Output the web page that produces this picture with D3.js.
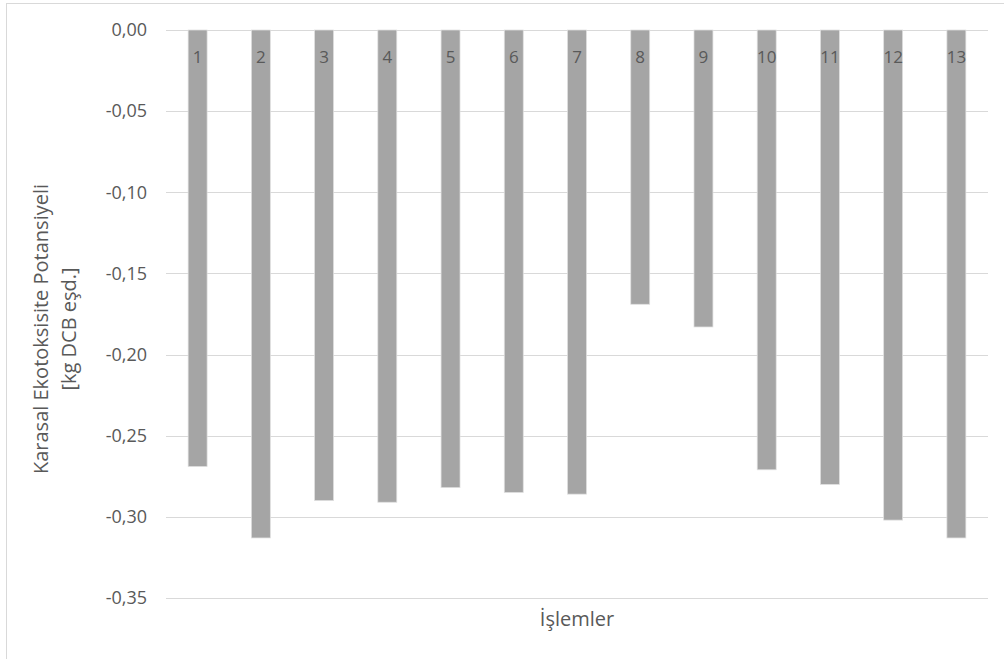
<!DOCTYPE html>
<html><head><meta charset="utf-8">
<script src="https://cdn.jsdelivr.net/npm/d3@7"></script>
<style>body{margin:0;background:#fff}svg{display:block}text{font-family:"Open Sans",sans-serif}</style>
</head><body><svg id="c" width="1004" height="659"></svg>
<script>
const categories = ["1","2","3","4","5","6","7","8","9","10","11","12","13"];
const values = [-0.269,-0.313,-0.290,-0.291,-0.282,-0.285,-0.286,-0.169,-0.183,-0.271,-0.280,-0.302,-0.313];
const yTicks = [0,-0.05,-0.10,-0.15,-0.20,-0.25,-0.30,-0.35];
const yTitle = ["Karasal Ekotoksisite Potansiyeli","[kg DCB eşd.]"];
const xTitle = "İşlemler";

const svg = d3.select("#c");
svg.append("rect").attr("x",6.5).attr("y",3.5).attr("width",1010).attr("height",670)
  .attr("fill","#fff").attr("stroke","#d9d9d9");
const L=166,R=988,T=30,B=598;
const x = d3.scaleBand().domain(categories).range([L,R]).paddingInner(0.7).paddingOuter(0.35);
const y = d3.scaleLinear().domain([0,-0.35]).range([T,B]);
const fmt = v => d3.format(".2f")(v).replace(".",",").replace("−","-");

const g = svg.append("g");
g.selectAll("line.grid").data(yTicks).enter().append("line")
  .attr("x1",L).attr("x2",R).attr("y1",d=>Math.round(y(d))+0.5).attr("y2",d=>Math.round(y(d))+0.5)
  .attr("stroke","#d9d9d9").attr("stroke-width",1);
g.selectAll("text.yt").data(yTicks).enter().append("text")
  .attr("x",147).attr("y",d=>y(d)).attr("dy","0.35em").attr("text-anchor","end")
  .attr("fill","#595959").attr("font-size",18).text(d=>fmt(d===0?0:d));
g.selectAll("rect.bar").data(values).enter().append("rect")
  .attr("x",(d,i)=>x(categories[i])).attr("width",x.bandwidth())
  .attr("y",y(0)).attr("height",d=>y(d)-y(0))
  .attr("fill","#a5a5a5").attr("stroke","#e0e0e0").attr("stroke-width",0.75);
g.selectAll("text.cl").data(categories).enter().append("text")
  .attr("x",d=>x(d)+x.bandwidth()/2).attr("y",57).attr("dy","0.35em").attr("text-anchor","middle")
  .attr("fill","#595959").attr("font-size",17).text(d=>d);
const yt = svg.append("text").attr("transform","translate(48,329) rotate(-90)")
  .attr("text-anchor","middle").attr("fill","#595959").attr("font-size",20);
yt.append("tspan").attr("x",0).attr("y",0).text(yTitle[0]);
yt.append("tspan").attr("x",0).attr("y",28).text(yTitle[1]);
svg.append("text").attr("x",(L+R)/2).attr("y",619).attr("dy","0.35em").attr("text-anchor","middle")
  .attr("fill","#595959").attr("font-size",20).text(xTitle);
</script></body></html>
